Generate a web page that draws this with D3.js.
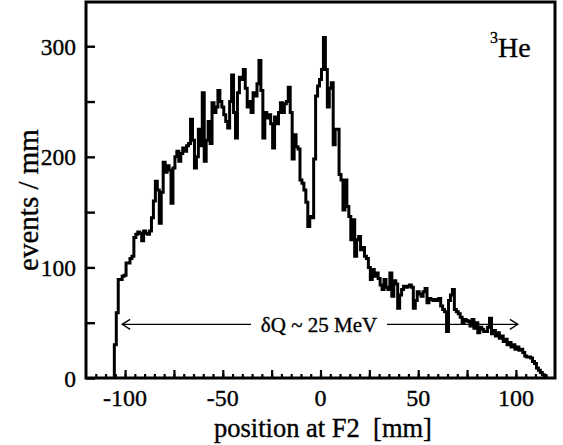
<!DOCTYPE html>
<html>
<head>
<meta charset="utf-8">
<script src="https://cdn.jsdelivr.net/npm/d3@7"></script>
<style>
  html, body { margin: 0; padding: 0; background: #fff; }
  svg { display: block; }
  text { font-family: "Liberation Serif", "Times New Roman", "DejaVu Serif", serif; fill: #000; stroke: #000; stroke-width: 0.35px; }
</style>
</head>
<body>
<svg id="chart" width="563" height="445"></svg>
<script>
// Histogram of 3He events along the F2 focal plane, 1 mm bins.
const binLow = -105.5;   // lower edge of the first bin [mm]
const binWidth = 1;      // bin width [mm]
const counts = [
  30, 59, 89, 89, 92, 93, 104, 104, 108, 110,
  127, 130, 132, 131, 124, 133, 131, 130, 133, 145,
  160, 178, 170, 140, 168, 195, 186, 192, 188, 158,
  190, 200, 205, 196, 203, 208, 205, 210, 212, 234,
  215, 190, 200, 225, 210, 258, 196, 215, 232, 212,
  249, 240, 245, 260, 250, 245, 238, 232, 226, 250,
  274, 240, 217, 258, 272, 270, 279, 262, 245, 250,
  240, 258, 255, 266, 287, 260, 217, 240, 235, 238,
  230, 208, 236, 230, 240, 249, 240, 248, 250, 263,
  240, 198, 220, 209, 207, 179, 176, 170, 159, 137,
  146, 145, 198, 255, 264, 270, 279, 308, 279, 245,
  262, 267, 211, 225, 225, 184, 179, 152, 179, 155,
  146, 125, 143, 110, 125, 128, 116, 118, 110, 108,
  100, 89, 98, 92, 95, 90, 84, 80, 89, 82,
  80, 95, 74, 88, 85, 63, 75, 80, 83, 82,
  83, 84, 82, 63, 70, 78, 76, 74, 78, 81,
  68, 72, 71, 70, 71, 70, 72, 65, 62, 60,
  42, 70, 75, 80, 62, 60, 58, 55, 50, 53,
  52, 51, 47, 53, 45, 50, 41, 46, 44, 42,
  42, 46, 54, 40, 43, 38, 41, 36, 38, 33,
  35, 30, 32, 28, 30, 26, 28, 25, 26, 23,
  20, 19, 19, 18, 15, 13, 9, 7, 5, 3,
  2
];

const xDomain = [-120, 120];
const yDomain = [0, 340];
const xLabelTicks = [-100, -50, 0, 50, 100];
const xMajorTicks = [-100, -75, -50, -25, 0, 25, 50, 75, 100];
const yLabelTicks = [0, 100, 200, 300];
const yMinorTicks = [50, 150, 250];
const xTitle = "position at F2  [mm]";
const yTitle = "events / mm";
const rangeArrow = { from: -101.5, to: 101, level: 48.5, text: "δQ ~ 25 MeV" };

const svg = d3.select("#chart");
const plot = { left: 86, right: 555, top: 2, bottom: 378 };

const x = d3.scaleLinear().domain(xDomain).range([plot.left, plot.right]);
const y = d3.scaleLinear().domain(yDomain).range([plot.bottom, plot.top]);

// histogram outline as a step path
const pts = [{ e: binLow, v: 0 }]
  .concat(counts.map((c, i) => ({ e: binLow + i * binWidth, v: c })))
  .concat([{ e: binLow + counts.length * binWidth, v: 0 }]);

const step = d3.line()
  .x(d => x(d.e))
  .y(d => y(d.v))
  .curve(d3.curveStepAfter);

svg.append("path")
  .attr("d", step(pts))
  .attr("fill", "none")
  .attr("stroke", "#000")
  .attr("stroke-width", 3)
  .attr("stroke-linejoin", "miter");

// range arrow with label
const ay = y(rangeArrow.level);
const gapL = 251, gapR = 387;
const arrow = svg.append("g").attr("stroke", "#000").attr("stroke-width", 1.3).attr("fill", "none");
arrow.append("line").attr("x1", x(rangeArrow.from)).attr("x2", gapL).attr("y1", ay).attr("y2", ay);
arrow.append("line").attr("x1", gapR).attr("x2", x(rangeArrow.to)).attr("y1", ay).attr("y2", ay);
arrow.append("path").attr("d", `M${x(rangeArrow.from) + 8},${ay - 5}L${x(rangeArrow.from)},${ay}L${x(rangeArrow.from) + 8},${ay + 5}`);
arrow.append("path").attr("d", `M${x(rangeArrow.to) - 8},${ay - 5}L${x(rangeArrow.to)},${ay}L${x(rangeArrow.to) - 8},${ay + 5}`);
svg.append("text")
  .attr("x", (gapL + gapR) / 2)
  .attr("y", ay + 7.5)
  .attr("text-anchor", "middle")
  .attr("font-size", 21)
  .text(rangeArrow.text);

// frame
svg.append("rect")
  .attr("x", plot.left).attr("y", plot.top)
  .attr("width", plot.right - plot.left).attr("height", plot.bottom - plot.top)
  .attr("fill", "none").attr("stroke", "#000").attr("stroke-width", 3);

// bottom axis: inward ticks every 5 mm, longer every 25 mm
const xAxisMinor = d3.axisBottom(x)
  .tickValues(d3.range(-115, 116, 5))
  .tickSize(-4).tickFormat("");
const xAxisMajor = d3.axisBottom(x)
  .tickValues(xMajorTicks)
  .tickSize(-8).tickFormat("");
[xAxisMinor, xAxisMajor].forEach(ax => {
  const g = svg.append("g").attr("transform", `translate(0,${plot.bottom})`).call(ax);
  g.select(".domain").remove();
  g.selectAll("line").attr("stroke", "#000").attr("stroke-width", 2.2);
});
svg.append("g").selectAll("text").data(xLabelTicks).join("text")
  .attr("x", d => x(d))
  .attr("y", 406)
  .attr("text-anchor", "middle")
  .attr("font-size", 24)
  .text(d => d);

// left axis: inward ticks
const yAxis = d3.axisLeft(y)
  .tickValues(yLabelTicks.concat(yMinorTicks))
  .tickSize(-9).tickFormat("");
const gy = svg.append("g").attr("transform", `translate(${plot.left},0)`).call(yAxis);
gy.select(".domain").remove();
gy.selectAll("line").attr("stroke", "#000").attr("stroke-width", 2.4);
svg.append("g").selectAll("text").data(yLabelTicks).join("text")
  .attr("x", 76)
  .attr("y", d => y(d) + 8.5)
  .attr("text-anchor", "end")
  .attr("font-size", 23.5)
  .text(d => d);

// axis titles
svg.append("text")
  .attr("x", 323).attr("y", 437)
  .attr("text-anchor", "middle")
  .attr("font-size", 26.5)
  .attr("xml:space", "preserve")
  .style("white-space", "pre")
  .text(xTitle);
svg.append("text")
  .attr("transform", `translate(38,${200}) rotate(-90)`)
  .attr("text-anchor", "middle")
  .attr("font-size", 29)
  .text(yTitle);

// nucleus label
const lab = svg.append("text").attr("x", 490).attr("y", 57).attr("font-size", 28);
lab.append("tspan").attr("font-size", 16).attr("dy", -14).text("3");
lab.append("tspan").attr("dy", 14).text("He");
</script>
</body>
</html>
